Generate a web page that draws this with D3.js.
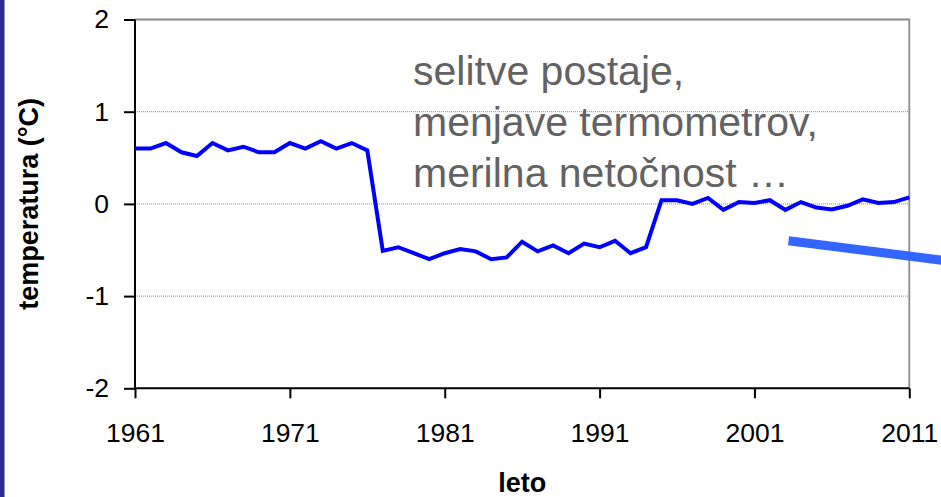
<!DOCTYPE html>
<html>
  <head>
    <meta charset="utf-8">
    <title>temperatura</title>
    <script src="https://d3js.org/d3.v7.min.js"></script>
    <style>
      body { margin: 0; background: #fff; }
      svg { display: block; font-family: Arial, "Liberation Sans", sans-serif; }
    </style>
  </head>
  <body>
    <div id="chart"></div>
    <script>
      // data
      var years = d3.range(1961, 2012);
      var temps = [
        0.60, 0.60, 0.66, 0.56, 0.52, 0.66, 0.58, 0.62, 0.56, 0.56,
        0.66, 0.60, 0.68, 0.60, 0.66, 0.58, -0.51, -0.47, -0.535, -0.60,
        -0.535, -0.49, -0.515, -0.60, -0.58, -0.41, -0.515, -0.45, -0.535, -0.43,
        -0.47, -0.40, -0.535, -0.47, 0.04, 0.04, 0.0, 0.065, -0.065, 0.02,
        0.01, 0.04, -0.065, 0.02, -0.04, -0.06, -0.02, 0.05, 0.01, 0.02,
        0.07
      ];
      var trendYears = [2003.2, 2013.3];
      var trendTemps = [-0.40, -0.615];
      var yTicks = [-2, -1, 0, 1, 2];
      var xTicks = [1961, 1971, 1981, 1991, 2001, 2011];
      var noteLines = ["selitve postaje,", "menjave termometrov,", "merilna netočnost …"];

      var width = 941, height = 497;
      var margin = { top: 19.5, right: 31.7, bottom: 108.7, left: 135 };

      var svg = d3.select("#chart")
        .append("svg")
          .attr("width", width)
          .attr("height", height);

      // dark strip on the left edge
      svg.append("rect")
        .attr("x", 0).attr("y", 0)
        .attr("width", 4.5).attr("height", height)
        .attr("fill", "#2b2d8e");

      var x = d3.scaleLinear()
        .domain([1961, 2011])
        .range([margin.left, width - margin.right]);
      var y = d3.scaleLinear()
        .domain([-2, 2])
        .range([height - margin.bottom, margin.top]);

      // grid lines
      svg.append("g")
        .selectAll("line")
        .data([-1, 0, 1])
        .enter().append("line")
          .attr("x1", x(1961)).attr("x2", x(2011))
          .attr("y1", function(d) { return y(d); })
          .attr("y2", function(d) { return y(d); })
          .attr("stroke", "#8c8c8c")
          .attr("stroke-width", 1)
          .attr("stroke-dasharray", "1,1");

      // top and right frame
      svg.append("path")
        .attr("d", "M" + x(1961) + "," + y(2) + "H" + x(2011) + "V" + y(-2))
        .attr("fill", "none")
        .attr("stroke", "#8a8a8a")
        .attr("stroke-width", 1.8);

      // axes (plain hyphen for negatives, as in the original)
      var fmt = function(d) { return String(d); };
      var yAxis = svg.append("g")
        .attr("transform", "translate(" + x(1961) + ",0)")
        .call(d3.axisLeft(y).tickValues(yTicks).tickSize(11).tickPadding(15).tickFormat(fmt));
      var xAxis = svg.append("g")
        .attr("transform", "translate(0," + y(-2) + ")")
        .call(d3.axisBottom(x).tickValues(xTicks).tickSize(10).tickPadding(25).tickFormat(fmt));
      [yAxis, xAxis].forEach(function(a) {
        a.select(".domain").remove();
        a.selectAll(".tick line").attr("stroke", "#000").attr("stroke-width", 2);
        a.selectAll(".tick text")
          .attr("fill", "#000")
          .style("font-size", "26.5px")
          .style("font-family", "Arial, 'Liberation Sans', sans-serif");
      });
      svg.append("path")
        .attr("d", "M" + x(1961) + "," + y(2) + "V" + y(-2) + "H" + x(2011))
        .attr("fill", "none")
        .attr("stroke", "#000")
        .attr("stroke-width", 2);

      // data line
      var line = d3.line()
        .x(function(d, i) { return x(years[i]); })
        .y(function(d) { return y(d); });
      svg.append("path")
        .datum(temps)
        .attr("d", line)
        .attr("fill", "none")
        .attr("stroke", "#0000ff")
        .attr("stroke-width", 4)
        .attr("stroke-linejoin", "miter");

      // thick trend marker
      svg.append("line")
        .attr("x1", x(trendYears[0])).attr("y1", y(trendTemps[0]))
        .attr("x2", x(trendYears[1])).attr("y2", y(trendTemps[1]))
        .attr("stroke", "#3366ff")
        .attr("stroke-width", 9);

      // note text
      svg.append("text")
        .attr("fill", "#626262")
        .style("font-size", "41px")
        .selectAll("tspan")
        .data(noteLines)
        .enter().append("tspan")
          .attr("x", 413)
          .attr("y", function(d, i) { return 85 + i * 51; })
          .text(function(d) { return d; });

      // axis titles
      svg.append("text")
        .attr("transform", "translate(38," + y(0) + ") rotate(-90)")
        .attr("text-anchor", "middle")
        .style("font-size", "27px")
        .style("font-weight", "bold")
        .text("temperatura (°C)");
      svg.append("text")
        .attr("x", (x(1961) + x(2011)) / 2)
        .attr("y", 492)
        .attr("text-anchor", "middle")
        .style("font-size", "27px")
        .style("font-weight", "bold")
        .text("leto");
    </script>
  </body>
</html>
